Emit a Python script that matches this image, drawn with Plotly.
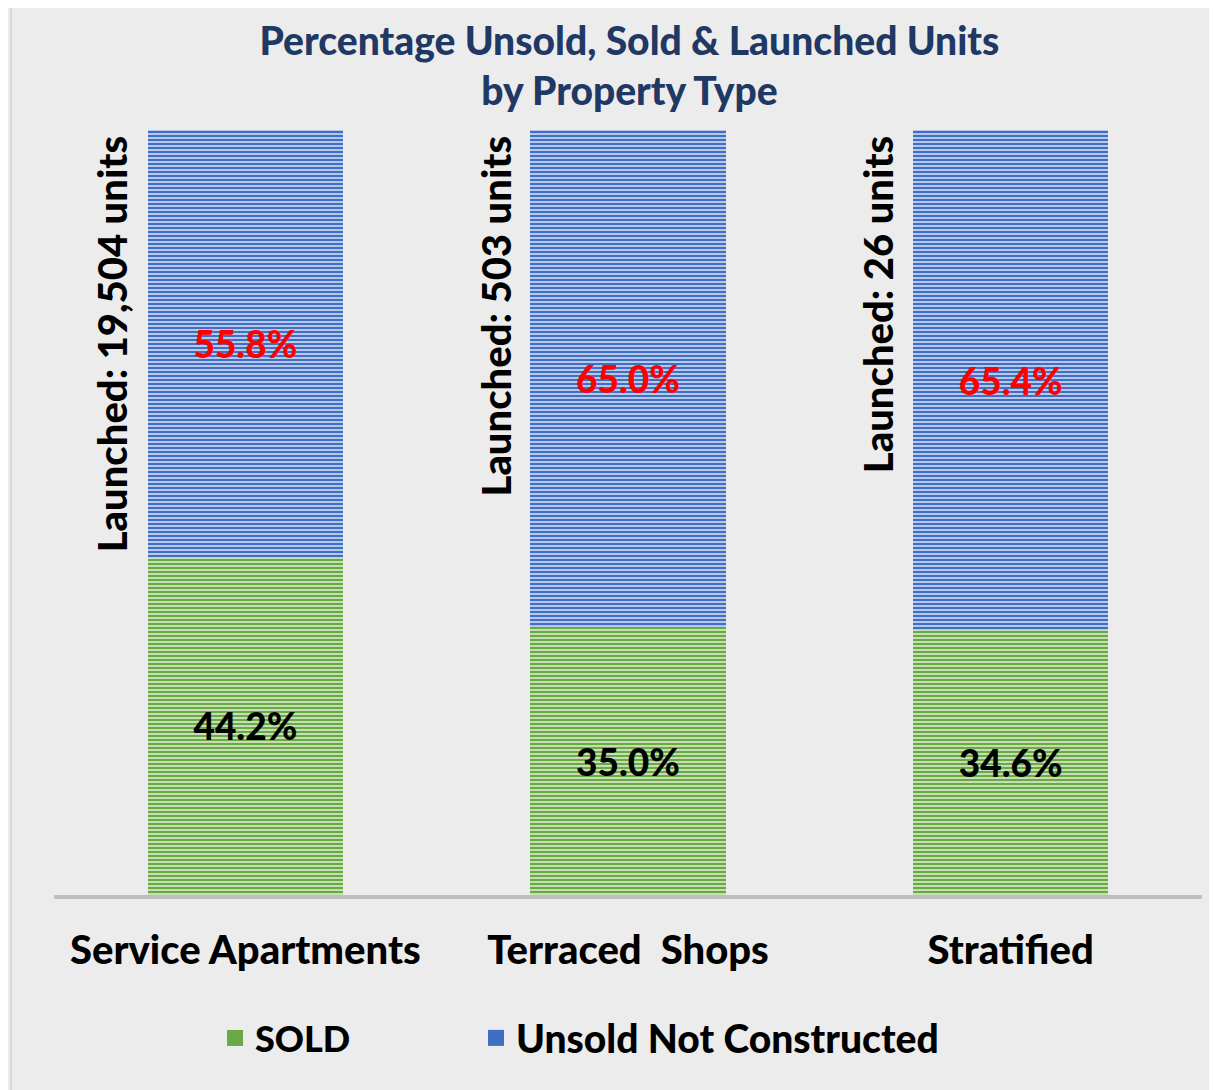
import plotly.graph_objects as go

categories = ["Service Apartments", "Terraced  Shops", "Stratified"]
sold_pct = [44.2, 35.0, 34.6]
unsold_pct = [55.8, 65.0, 65.4]
launched_units = ["19,504", "503", "26"]

FONT = "Lato"
GREEN, GREEN_BG = "#6aaa42", "#eef5e8"
BLUE, BLUE_BG = "#3f6ec6", "#eaeef8"

fig = go.Figure()
fig.add_trace(go.Bar(
    x=categories, y=sold_pct, name="SOLD", showlegend=False,
    marker=dict(color=GREEN_BG, line=dict(width=0),
                pattern=dict(shape="-", fgcolor=GREEN, bgcolor=GREEN_BG, fgopacity=1, size=4, solidity=0.65)),
    text=[f"{v:.1f}%" for v in sold_pct], textposition="inside", insidetextanchor="middle",
    textfont=dict(family=FONT, size=37, color="black", weight=900),
    width=0.51, hoverinfo="skip",
))
fig.add_trace(go.Bar(
    x=categories, y=unsold_pct, name="Unsold Not Constructed", showlegend=False,
    marker=dict(color=BLUE_BG, line=dict(width=0),
                pattern=dict(shape="-", fgcolor=BLUE, bgcolor=BLUE_BG, fgopacity=1, size=4, solidity=0.65)),
    text=[f"{v:.1f}%" for v in unsold_pct], textposition="inside", insidetextanchor="middle",
    textfont=dict(family=FONT, size=37, color="#ff0000", weight=900),
    width=0.51, hoverinfo="skip",
))
# legend entries
fig.add_trace(go.Scatter(x=[None], y=[None], mode="markers", name="SOLD", legend="legend",
                         marker=dict(symbol="square", size=25, color=GREEN)))
fig.add_trace(go.Scatter(x=[None], y=[None], mode="markers", name="Unsold Not Constructed", legend="legend2",
                         marker=dict(symbol="square", size=25, color=BLUE)))

for cat, units in zip(categories, launched_units):
    fig.add_annotation(
        x=cat, y=100, xref="x", yref="y", text=f"Launched: {units} units",
        textangle=-90, showarrow=False, xanchor="center", yanchor="top",
        xshift=-133, yshift=-4,
        font=dict(family=FONT, size=40, color="black", weight=900),
    )

W = 1148.0
def px(p):
    return (p - 54) / W

fig.add_shape(type="line", xref="paper", yref="paper", x0=px(11), x1=px(11), y0=-1, y1=2,
              line=dict(color="#d9d9d9", width=2), layer="below")

fig.update_layout(
    barmode="stack",
    width=1209, height=1082,
    margin=dict(l=46, r=15, t=122, b=195),
    paper_bgcolor="#ececec", plot_bgcolor="#ececec",
    title=dict(text="Percentage Unsold, Sold & Launched Units<br>by Property Type",
               x=0.514, xanchor="center", yref="container", y=0.957, yanchor="top",
               font=dict(family=FONT, size=39, color="#1f3864", weight=900)),
    xaxis=dict(showline=True, linecolor="#bfbfbf", linewidth=4, ticks="", ticklabelstandoff=17,
               tickfont=dict(family=FONT, size=40, color="black", weight=900), showgrid=False),
    yaxis=dict(range=[0, 100], visible=False, showgrid=False),
    legend=dict(orientation="h", x=px(215), xanchor="left", y=-0.187, yanchor="middle",
                font=dict(family=FONT, size=36, color="black", weight=900), bgcolor="rgba(0,0,0,0)"),
    legend2=dict(orientation="h", x=px(476), xanchor="left", y=-0.187, yanchor="middle",
                 font=dict(family=FONT, size=39, color="black", weight=900), bgcolor="rgba(0,0,0,0)"),
    uniformtext=dict(mode="show", minsize=10),
)
fig.write_html("out.html")
